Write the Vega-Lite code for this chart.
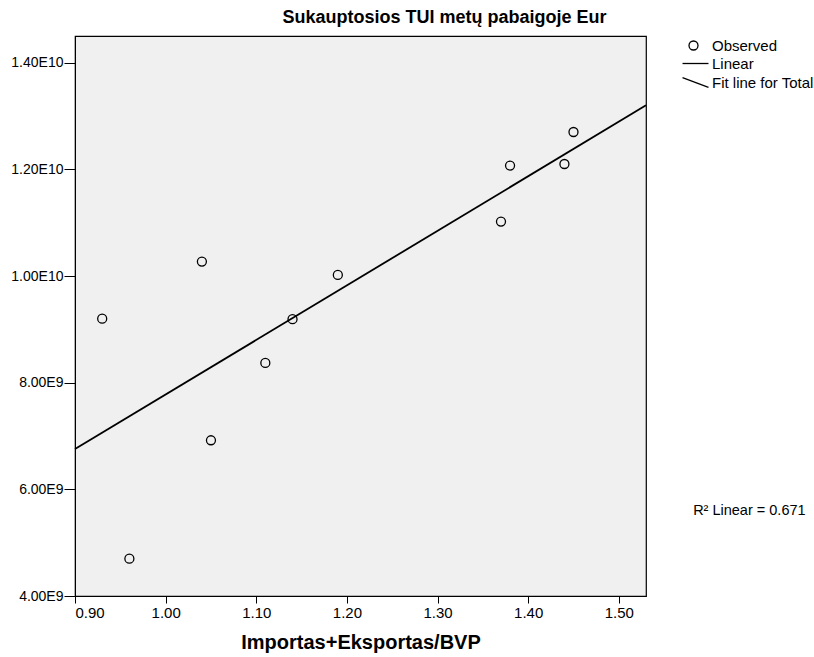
{
  "$schema": "https://vega.github.io/schema/vega-lite/v6.json",
  "autosize": {"type": "none"},
  "width": 571,
  "height": 560,
  "padding": {"left": 75, "top": 36, "right": 168, "bottom": 61},
  "background": "white",
  "config": {
    "font": "Liberation Sans",
    "view": {"fill": "#f0f0f0", "stroke": "black", "strokeWidth": 1.2},
    "axis": {"grid": false, "domainColor": "black", "tickColor": "black", "labelColor": "black", "titleColor": "black", "labelFont": "Liberation Sans", "titleFont": "Liberation Sans"}
  },
  "title": {"text": "Sukauptosios TUI metų pabaigoje Eur", "fontSize": 18, "fontWeight": "bold", "font": "Liberation Sans", "color": "black", "anchor": "middle", "dx": 84, "offset": 9},
  "datasets": {
    "obs": [
      {"ratio": 0.93, "fdi": 9.20e9, "series": "Observed"},
      {"ratio": 0.96, "fdi": 4.70e9, "series": "Observed"},
      {"ratio": 1.04, "fdi": 10.27e9, "series": "Observed"},
      {"ratio": 1.05, "fdi": 6.92e9, "series": "Observed"},
      {"ratio": 1.11, "fdi": 8.37e9, "series": "Observed"},
      {"ratio": 1.14, "fdi": 9.19e9, "series": "Observed"},
      {"ratio": 1.19, "fdi": 10.02e9, "series": "Observed"},
      {"ratio": 1.37, "fdi": 11.02e9, "series": "Observed"},
      {"ratio": 1.38, "fdi": 12.07e9, "series": "Observed"},
      {"ratio": 1.44, "fdi": 12.10e9, "series": "Observed"},
      {"ratio": 1.45, "fdi": 12.70e9, "series": "Observed"}
    ],
    "fit": [
      {"ratio": 0.9, "fdi": 6.755e9},
      {"ratio": 1.53, "fdi": 13.2e9}
    ],
    "note": [
      {"ratio": 1.582, "fdi": 5.6e9, "label": "R² Linear = 0.671"}
    ]
  },
  "layer": [
    {
      "data": {"name": "fit"},
      "mark": {"type": "line", "color": "black", "strokeWidth": 1.8},
      "encoding": {
        "x": {"field": "ratio", "type": "quantitative", "scale": {"domain": [0.9, 1.53], "nice": false, "zero": false},
          "axis": {"values": [0.9, 1.0, 1.1, 1.2, 1.3, 1.4, 1.5], "format": ".2f", "tickSize": 7, "labelPadding": 2, "labelFontSize": 15, "title": "Importas+Eksportas/BVP", "titleFontSize": 20, "titleFontWeight": "bold", "titleY": 52, "titleBaseline": "alphabetic", "titleAnchor": "middle"}},
        "y": {"field": "fdi", "type": "quantitative", "scale": {"domain": [4e9, 1.45e10], "nice": false, "zero": false},
          "axis": {"values": [4e9, 6e9, 8e9, 1e10, 1.2e10, 1.4e10], "labelExpr": "datum.value >= 1e10 ? format(datum.value/1e10, '.2f') + 'E10' : format(datum.value/1e9, '.2f') + 'E9'", "tickSize": 11, "labelPadding": 1, "labelFontSize": 14, "title": null}}
      }
    },
    {
      "data": {"name": "obs"},
      "mark": {"type": "point", "filled": false, "stroke": "black", "strokeWidth": 1.3, "size": 81, "opacity": 1},
      "encoding": {
        "x": {"field": "ratio", "type": "quantitative"},
        "y": {"field": "fdi", "type": "quantitative"},
        "shape": {"field": "series", "type": "nominal",
          "scale": {"domain": ["Observed", "Linear", "Fit line for Total"], "range": ["circle", "M-2.44,0L3.33,0", "M-2.44,-1.1L3.33,1.1"]},
          "legend": {"orient": "none", "legendX": 611, "legendY": 2, "title": null, "labelFontSize": 15, "labelFont": "Liberation Sans", "labelColor": "black", "symbolSize": 81, "symbolStrokeColor": "black", "symbolFillColor": "transparent", "symbolStrokeWidth": 1.3, "labelOffset": 11, "rowPadding": 2}}
      }
    },
    {
      "data": {"name": "note"},
      "mark": {"type": "text", "align": "left", "baseline": "middle", "fontSize": 14.5, "font": "Liberation Sans", "color": "black"},
      "encoding": {
        "x": {"field": "ratio", "type": "quantitative"},
        "y": {"field": "fdi", "type": "quantitative"},
        "text": {"field": "label"}
      }
    }
  ]
}
